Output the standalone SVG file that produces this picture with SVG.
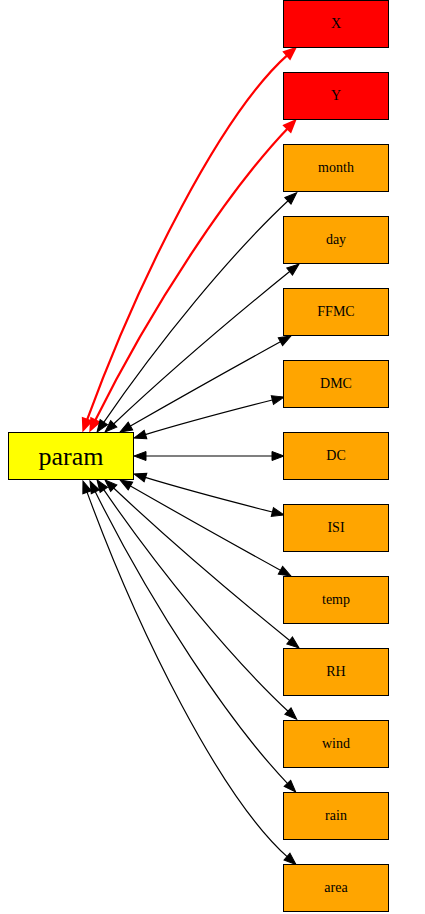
<svg xmlns="http://www.w3.org/2000/svg" width="425" height="914" viewBox="0 0 425 914">
<style>
.node rect{stroke:#000;stroke-width:1}
.n rect{fill:#ffa500}
.r rect{fill:#ff0000}
.node text{font-family:"Liberation Serif","Times New Roman",serif;font-size:14px;text-anchor:middle;fill:#000}
#param text{font-size:26px}
.e{fill:none;stroke:#000;stroke-width:1.2;marker-start:url(#ab);marker-end:url(#ab)}
.e.red{stroke:#ff0000;stroke-width:2.2;marker-start:url(#ar);marker-end:url(#ar)}
</style>
<defs>
<marker id="ab" viewBox="-2 -6 16 12" refX="2" refY="0" markerWidth="16" markerHeight="12" markerUnits="userSpaceOnUse" orient="auto-start-reverse" overflow="visible">
<path d="M0,-4.5 L12,0 L0,4.5 Z" fill="#000" stroke="#000" stroke-width="1"/>
</marker>
<marker id="ar" viewBox="-2 -6 16 12" refX="2" refY="0" markerWidth="16" markerHeight="12" markerUnits="userSpaceOnUse" orient="auto-start-reverse" overflow="visible">
<path d="M0,-4.5 L11,0 L0,4.5 Z" fill="#ff0000" stroke="#ff0000" stroke-width="2"/>
</marker>
</defs>
<rect width="425" height="914" fill="#fff"/>
<g id="edges">
<path class="e red" d="M86.4,421.6 C138.3,279.8 221,113.5 288.5,54.1"/>
<path class="e red" d="M94.4,422 C152.1,305.5 230.1,188.4 288.8,127.2"/>
<path class="e" d="M102.7,423.8 C159.3,341.3 231,253.9 289.4,199.5"/>
<path class="e" d="M112.3,425.2 C170.5,370.4 229,320.5 291.2,270.3"/>
<path class="e" d="M128.7,427 C180.8,397.2 229.6,369.7 282.2,340.8"/>
<path class="e" d="M143.6,435.1 C186.6,422 230.7,410.5 274.3,399.5"/>
<path class="e" d="M144,456 L274,456"/>
<path class="e" d="M143.6,476.9 C186.6,490 230.7,501.5 274.3,512.5"/>
<path class="e" d="M128.7,485 C180.8,514.8 229.6,542.3 282.2,571.2"/>
<path class="e" d="M112.3,486.8 C170.5,541.6 229,591.5 291.2,641.7"/>
<path class="e" d="M102.7,488.2 C159.3,570.7 231,658.1 289.4,712.5"/>
<path class="e" d="M94.4,490 C152.1,606.5 230.1,723.6 288.8,784.8"/>
<path class="e" d="M86.4,490.4 C138.3,632.2 221,798.5 288.5,857.9"/>
</g>
<g id="param" class="node"><rect x="8.5" y="432.5" width="125" height="47" fill="#ffff00"/><text x="71" y="465">param</text></g>
<g id="X" class="node r"><rect x="283.5" y="0.5" width="105" height="47"/><text x="336" y="28">X</text></g>
<g id="Y" class="node r"><rect x="283.5" y="72.5" width="105" height="47"/><text x="336" y="100">Y</text></g>
<g id="month" class="node n"><rect x="283.5" y="144.5" width="105" height="47"/><text x="336" y="172">month</text></g>
<g id="day" class="node n"><rect x="283.5" y="216.5" width="105" height="47"/><text x="336" y="244">day</text></g>
<g id="FFMC" class="node n"><rect x="283.5" y="288.5" width="105" height="47"/><text x="336" y="316">FFMC</text></g>
<g id="DMC" class="node n"><rect x="283.5" y="360.5" width="105" height="47"/><text x="336" y="388">DMC</text></g>
<g id="DC" class="node n"><rect x="283.5" y="432.5" width="105" height="47"/><text x="336" y="460">DC</text></g>
<g id="ISI" class="node n"><rect x="283.5" y="504.5" width="105" height="47"/><text x="336" y="532">ISI</text></g>
<g id="temp" class="node n"><rect x="283.5" y="576.5" width="105" height="47"/><text x="336" y="604">temp</text></g>
<g id="RH" class="node n"><rect x="283.5" y="648.5" width="105" height="47"/><text x="336" y="676">RH</text></g>
<g id="wind" class="node n"><rect x="283.5" y="720.5" width="105" height="47"/><text x="336" y="748">wind</text></g>
<g id="rain" class="node n"><rect x="283.5" y="792.5" width="105" height="47"/><text x="336" y="820">rain</text></g>
<g id="area" class="node n"><rect x="283.5" y="864.5" width="105" height="47"/><text x="336" y="892">area</text></g>
</svg>
